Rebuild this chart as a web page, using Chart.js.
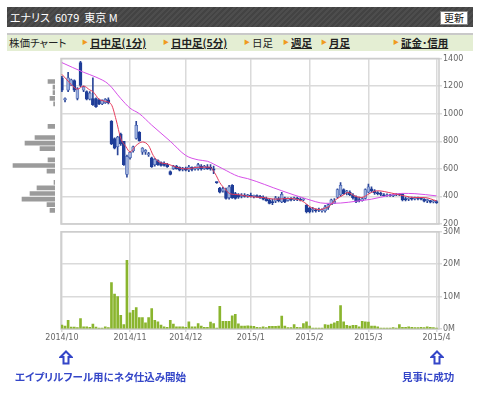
<!DOCTYPE html>
<html lang="ja">
<head>
<meta charset="utf-8">
<script src="https://cdn.jsdelivr.net/npm/chart.js@4.4.1/dist/chart.umd.min.js"></script>
<style>
  html, body { margin: 0; padding: 0; background: #fff; }
  body { width: 480px; height: 397px; position: relative; overflow: hidden;
         font-family: "Noto Sans CJK JP", sans-serif; font-feature-settings: "palt"; }
  #head { position: absolute; left: 7px; top: 7px; width: 466px; height: 20px;
          background: repeating-linear-gradient(135deg, #4d4d4d 0 2px, #434343 2px 4px); }
  #head .ttl { position: absolute; left: 3px; top: 0; color: #fff; font-size: 11px; line-height: 20px; white-space: nowrap; }
  #head .btn { position: absolute; left: 433px; top: 4px; width: 26px; height: 12px; background: #fff;
               border: 1px solid #888; font-size: 10px; line-height: 12px; text-align: center; color: #111; }
  #navbg { position: absolute; left: 7px; top: 33px; width: 466px; height: 16px; background: #e4eed3; border-top: 2px solid #c9c9c9; }
  .nv { position: absolute; top: 35px; font-size: 10.5px; line-height: 15px; color: #222; white-space: nowrap; }
  .nv.on { font-weight: bold; text-decoration: underline; }
  .tri { position: absolute; top: 38px; font-size: 6px; line-height: 8px; color: #f09a20; }
  canvas { position: absolute; }
  .note { position: absolute; top: 370px; font-size: 10.5px; font-weight: bold; color: #3446c8; white-space: nowrap; line-height: 14px; }
  .arrow { position: absolute; top: 350px; }
</style>
</head>
<body>
<div id="head"><span class="ttl">エナリス&nbsp;&nbsp;6079&nbsp;&nbsp;東京 M</span><span class="btn">更新</span></div>
<div id="navbg"></div>
<span class="nv" style="left:9px">株価チャート</span>
<span class="tri" style="left:82px">▶</span><span class="nv on" style="left:90px">日中足(1分)</span>
<span class="tri" style="left:163px">▶</span><span class="nv on" style="left:171px">日中足(5分)</span>
<span class="tri" style="left:244px">▶</span><span class="nv" style="left:252px">日足</span>
<span class="tri" style="left:283px">▶</span><span class="nv on" style="left:291px">週足</span>
<span class="tri" style="left:321px">▶</span><span class="nv on" style="left:329px">月足</span>
<span class="tri" style="left:393px">▶</span><span class="nv on" style="left:401px">証金･信用</span>

<canvas id="price" width="480" height="180" style="left:0;top:50px;width:480px;height:180px"></canvas>
<canvas id="band" width="61" height="180" style="left:0;top:50px;width:61px;height:180px"></canvas>
<canvas id="vol" width="480" height="120" style="left:0;top:226px;width:480px;height:120px"></canvas>

<svg class="arrow" style="left:59px" width="14" height="15" viewBox="0 0 14 15"><path d="M7 1.5 L12.5 7 L9.5 7 L9.5 13.5 L4.5 13.5 L4.5 7 L1.5 7 Z" fill="#fff" stroke="#3446c8" stroke-width="2" stroke-linejoin="miter"/></svg>
<svg class="arrow" style="left:430px" width="14" height="15" viewBox="0 0 14 15"><path d="M7 1.5 L12.5 7 L9.5 7 L9.5 13.5 L4.5 13.5 L4.5 7 L1.5 7 Z" fill="#fff" stroke="#3446c8" stroke-width="2" stroke-linejoin="miter"/></svg>
<span class="note" style="left:15px">エイプリルフール用にネタ仕込み開始</span>
<span class="note" style="left:402px">見事に成功</span>

<script>
// trading days 2014/10/1 .. 2015/4/1 (index 0..121)
const monthIdx = [0, 22, 40, 61, 80, 99, 121];
const monthLabels = ['2014/10', '2014/11', '2014/12', '2015/1', '2015/2', '2015/3', '2015/4'];

const openP = [
  1260,1100,1170,1205,1240,1110,1370,1170,1160,1105,
  1110,1110,1100,1070,1080,1100,945,820,760,850,
  800,560,680,730,820,865,720,720,700,680,
  630,660,645,640,630,580,600,620,610,595,
  605,590,610,600,600,620,600,615,610,600,
  505,460,440,440,390,480,420,410,400,410,
  405,405,400,405,400,395,385,375,360,365,
  385,360,390,370,385,375,385,380,375,335,
  315,300,300,300,295,295,320,340,350,395,
  410,450,430,430,410,395,375,370,385,430,
  455,440,425,420,410,405,410,405,410,415,
  415,385,380,385,380,390,385,380,370,370,
  360,362];
const highP = [
  1270,1115,1300,1250,1245,1190,1380,1200,1165,1160,
  1260,1115,1105,1100,1110,1115,950,825,835,860,
  800,700,725,765,945,870,755,740,720,685,
  675,665,650,650,640,585,625,625,615,610,
  612,625,615,615,640,630,625,630,630,620,
  505,465,465,460,480,485,430,420,420,420,
  415,425,410,412,408,405,395,385,380,400,
  395,430,395,390,392,395,395,390,385,340,
  320,320,310,315,310,335,345,380,385,455,
  500,455,445,440,420,405,395,392,455,490,
  470,450,435,432,420,418,416,415,420,420,
  418,395,392,395,395,395,392,385,380,372,
  372,370];
const lowP = [
  1160,1085,1160,1205,1160,1100,1195,1160,1100,1100,
  1060,1045,1065,1065,1075,1070,775,745,700,770,
  625,540,670,720,815,800,705,705,690,610,
  620,625,620,620,610,555,595,598,585,585,
  585,580,585,590,590,590,595,595,590,565,
  495,425,430,380,380,385,380,385,390,395,
  392,395,390,392,385,375,365,345,340,355,
  360,355,355,365,368,370,370,368,370,280,
  280,285,285,290,285,285,305,340,350,390,
  400,415,410,405,380,355,360,365,380,425,
  430,415,410,405,400,400,400,398,405,405,
  368,368,370,372,375,375,375,360,355,352,
  352,350];
const closeP = [
  1170,1110,1260,1245,1170,1180,1205,1195,1105,1150,
  1065,1050,1070,1095,1105,1080,780,750,830,780,
  630,690,720,760,915,805,750,735,710,615,
  670,630,625,625,615,560,620,600,590,605,
  590,615,595,608,630,600,620,600,600,590,
  500,430,455,385,470,390,385,395,410,400,
  410,400,405,398,390,380,370,350,355,390,
  370,415,360,385,375,390,380,372,380,290,
  290,310,295,305,300,325,340,375,365,450,
  480,420,440,410,390,360,370,385,450,470,
  440,425,420,415,405,412,405,410,415,410,
  375,375,385,380,390,385,380,365,375,358,
  365,355];
// volume, million shares
const volM = [
  1.2,0.9,2.7,0.6,0.6,0.4,3.2,0.7,0.7,0.5,
  1.5,0.6,0.3,0.3,0.7,0.4,14.3,10.8,10.0,4.2,
  1.4,21.2,5.0,5.8,6.6,3.5,3.5,1.9,3.5,6.3,
  2.7,2.2,1.2,0.7,0.5,2.7,1.5,0.7,0.7,0.7,
  0.5,2.2,0.7,0.7,1.7,0.9,0.5,0.5,2.1,1.7,
  0.3,7.0,2.4,2.4,2.4,4.1,4.5,1.6,0.9,0.9,
  1.0,0.9,0.8,0.5,0.4,0.7,0.4,0.8,0.8,0.8,
  0.9,4.0,0.9,0.4,0.4,1.4,0.5,0.4,1.7,2.2,
  0.9,0.3,0.3,0.3,0.3,1.4,1.2,1.5,1.9,2.4,
  7.2,2.2,1.1,0.9,1.1,1.1,0.7,2.4,2.2,2.1,
  0.9,0.9,0.7,0.3,0.3,0.3,0.3,0.4,0.3,1.4,
  0.5,0.5,0.7,0.5,0.4,0.4,0.5,0.4,0.7,0.5,
  0.4,0.3];

// moving averages (day index, price)
const maShortIdx = [0,2,4,5,7,9,10,12,14,16,17.5,19,20.7,22,24,26,28,29.5,31.5,34,37,40,44.5,47.7,49.5,51,52.6,54.2,57.4,60,65,69,73,77.5,80.6,83.5,85,86.5,88,91.3,92.3,94.5,96.8,100,102,106.5,110.6,114,117,121];
const maShortVal = [1285,1236,1190,1178,1200,1172,1160,1105,1090,1065,956,821,760,722,770,795,768,697,648,636,612,600,612,612,565,500,456,420,412,400,392,380,385,368,319,305,315,331,368,416,429,404,392,429,441,424,404,392,392,368];
const maLongIdx = [0,7,11,15,19,22,25,29,35,40,44,47,49,52,57,60,71,79,85,90,95,100,106,110,114,121];
const maLongVal = [1370,1300,1265,1215,1110,1040,1000,917,800,697,665,655,635,600,545,529,441,382,350,352,365,380,409,422,420,404];

// volume by price band (left histogram)
const bandPrice = [1233,1192,1152,1111,1071,908,827,786,746,665,624,583,502,462,421,380,340,299];
const bandVol = [3.5,1,1,2.5,0.7,3.5,10,15,7.5,3.5,21,4,0.5,9,12.5,16.5,4,2.5];

const priceTicks = [200, 400, 600, 800, 1000, 1200, 1400];
const volTicks = [0, 10, 20, 30];

const gridColor = '#dadada';
const tickFont = { family: 'DejaVu Sans', size: 8 };

const framePlugin = {
  id: 'frame',
  beforeDatasetsDraw(chart) {
    const a = chart.chartArea, ctx = chart.ctx;
    ctx.save();
    ctx.strokeStyle = '#cccccc';
    ctx.lineWidth = 1.5;
    ctx.strokeRect(a.left, a.top, a.right - a.left, a.bottom - a.top);
    ctx.restore();
  }
};

const monthTicks = (s) => { s.ticks = monthIdx.map(v => ({ value: v })); };

// --- price chart ---
const bodies = closeP.map((c, i) => ({ x: i, y: [openP[i], c] }));
const wicks = highP.map((h, i) => ({ x: i, y: [lowP[i], h] }));
const bodyFill = closeP.map((c, i) => c >= openP[i] ? '#9fb1dc' : '#1f3d98');
const bodyEdge = closeP.map((c, i) => c >= openP[i] ? '#4a66b4' : '#1f3d98');

new Chart(document.getElementById('price'), {
  type: 'bar',
  data: {
    datasets: [
      { type: 'line', data: maShortIdx.map((x, k) => ({ x: x, y: maShortVal[k] })),
        borderColor: '#e63c5c', borderWidth: 1, pointRadius: 0, cubicInterpolationMode: 'monotone', order: 0 },
      { type: 'line', data: maLongIdx.map((x, k) => ({ x: x, y: maLongVal[k] })),
        borderColor: '#d650e8', borderWidth: 1, pointRadius: 0, cubicInterpolationMode: 'monotone', order: 0 },
      { data: bodies, backgroundColor: bodyFill, borderColor: bodyEdge, borderWidth: 0.8,
        borderSkipped: false, barThickness: 3, grouped: false, minBarLength: 1, order: 1 },
      { data: wicks, backgroundColor: '#2b4699', barThickness: 1, grouped: false, order: 2 }
    ]
  },
  options: {
    responsive: false, animation: false, devicePixelRatio: 1,
    layout: { padding: { left: 61, top: 8.5, bottom: 6, right: 0 } },
    plugins: { legend: { display: false }, tooltip: { enabled: false } },
    scales: {
      x: { type: 'linear', min: -0.3, max: 121.8, offset: false,
           grid: { color: gridColor, lineWidth: 1.5, drawTicks: false, offset: false },
           border: { display: false }, ticks: { display: false },
           afterBuildTicks: monthTicks, afterFit: s => { s.height = 0; } },
      y: { type: 'linear', position: 'right', min: 200, max: 1400,
           afterBuildTicks: s => { s.ticks = priceTicks.map(v => ({ value: v })); },
           grid: { color: gridColor, lineWidth: 1.5, tickLength: 3 },
           border: { display: false },
           ticks: { font: tickFont, color: '#666', padding: 1, callback: v => String(v) },
           afterFit: s => { s.width = 41; } }
    }
  },
  plugins: [framePlugin]
});

// --- volume by price (left) ---
new Chart(document.getElementById('band'), {
  type: 'bar',
  data: { datasets: [{ data: bandPrice.map((p, k) => ({ x: bandVol[k], y: p })),
    backgroundColor: '#9b9b9b', barThickness: 4 }] },
  options: {
    indexAxis: 'y', responsive: false, animation: false, devicePixelRatio: 1,
    layout: { padding: { left: 0, top: 8.5, bottom: 6, right: 6 } },
    plugins: { legend: { display: false }, tooltip: { enabled: false } },
    scales: {
      x: { type: 'linear', min: 0, max: 27.5, reverse: true, display: false },
      y: { type: 'linear', min: 200, max: 1400, display: false, offset: false, grid: { offset: false } }
    }
  }
});

// --- volume chart ---
new Chart(document.getElementById('vol'), {
  type: 'bar',
  data: { datasets: [{ data: volM.map((v, i) => ({ x: i, y: v })),
    backgroundColor: '#8ab52e', barThickness: 2 }] },
  options: {
    responsive: false, animation: false, devicePixelRatio: 1,
    layout: { padding: { left: 61, top: 4, bottom: 0, right: 0 } },
    plugins: { legend: { display: false }, tooltip: { enabled: false } },
    scales: {
      x: { type: 'linear', min: -0.3, max: 121.8, offset: false,
           grid: { color: gridColor, lineWidth: 1.5, tickLength: 3, offset: false },
           border: { display: false },
           afterBuildTicks: monthTicks,
           ticks: { font: tickFont, color: '#666', padding: 1, autoSkip: false, maxRotation: 0,
                    callback: v => monthLabels[monthIdx.indexOf(v)] || '' },
           afterFit: s => { s.height = 17; } },
      y: { type: 'linear', position: 'right', min: 0, max: 30,
           afterBuildTicks: s => { s.ticks = volTicks.map(v => ({ value: v })); },
           grid: { color: gridColor, lineWidth: 1.5, tickLength: 3 },
           border: { display: false },
           ticks: { font: tickFont, color: '#666', padding: 1, callback: v => v + 'M' },
           afterFit: s => { s.width = 41; } }
    }
  },
  plugins: [framePlugin]
});
</script>
</body>
</html>
